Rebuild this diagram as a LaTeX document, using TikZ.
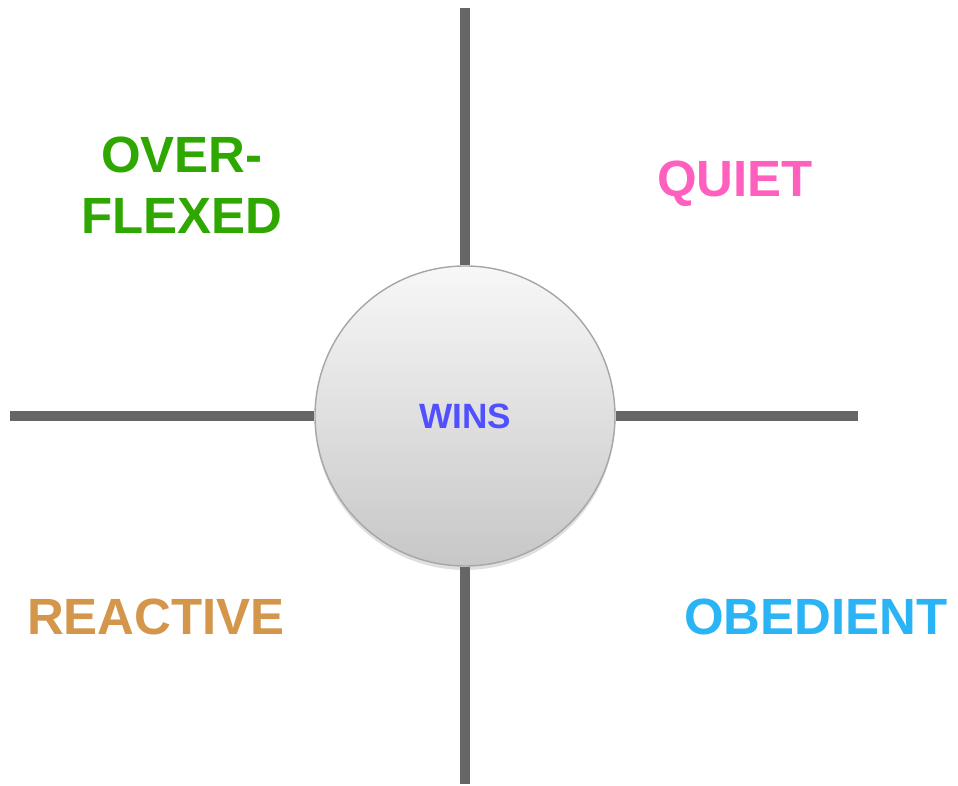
\documentclass[tikz,border=0pt]{standalone}
\usepackage{fontspec}
\setmainfont{Liberation Sans}
\usepackage{xcolor}
\usepackage{tikz}
\usetikzlibrary{positioning, shadows}
\definecolor{AxisGray}{HTML}{666666}
\definecolor{FlexGreen}{HTML}{2EA800}
\definecolor{QuietPink}{HTML}{FF5FBE}
\definecolor{ReactOrange}{HTML}{D4964A}
\definecolor{ObeyBlue}{HTML}{2BB4F5}
\definecolor{WinsBlue}{HTML}{5050FF}

\begin{document}
\begin{tikzpicture}[
  axis/.style={line width=2.9pt, color=AxisGray},
  hub/.style={circle, minimum size=3.0cm, inner sep=0pt,
    draw=black!35, line width=0.4pt,
    top color=white!97!black, bottom color=black!22,
    drop shadow={opacity=0.25, shadow xshift=0pt, shadow yshift=-0.04cm},
    font=\fontsize{10}{12}\selectfont\bfseries, text=WinsBlue},
  label/.style={font=\fontsize{14.5}{17.5}\selectfont\bfseries, align=center}
]
\useasboundingbox (0,0) rectangle (9.58,7.86);

%% Axis ends
\coordinate (top)    at (4.65,7.78);
\coordinate (bottom) at (4.65,0.02);
\coordinate (left)   at (0.10,3.70);
\coordinate (right)  at (8.58,3.70);

%% Centre
\node[hub] (wins) at (4.65,3.70) {WINS};

%% Axes
\draw[axis] (top)   -- (wins.north);
\draw[axis] (wins.south) -- (bottom);
\draw[axis] (left)  -- (wins.west);
\draw[axis] (wins.east)  -- (right);

%% Quadrants
\node[label, text=FlexGreen]   (overflexed) at (1.82,6.01) {OVER-\\FLEXED};
\node[label, text=QuietPink]   (quiet)      at (7.35,6.02) {QUIET};
\node[label, text=ReactOrange] (reactive)   at (1.56,1.69) {REACTIVE};
\node[label, text=ObeyBlue]    (obedient)   at (8.16,1.69) {OBEDIENT};

\end{tikzpicture}
\end{document}
